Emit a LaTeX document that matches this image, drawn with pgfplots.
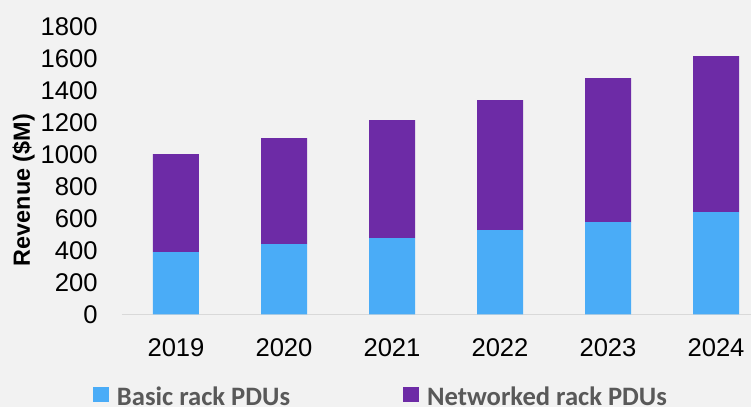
\documentclass[border=0pt]{standalone}
\usepackage{pgfplots}
\pgfplotsset{compat=1.18}
\usepackage{fontspec}
\setmainfont{Liberation Sans}
\newfontfamily\legendfont{Carlito}
\usetikzlibrary{backgrounds}
\definecolor{bg}{HTML}{F2F2F2}
\definecolor{basic}{HTML}{4AACF7}
\definecolor{netw}{HTML}{6D2BA6}
\definecolor{axisgray}{HTML}{D9D9D9}
\definecolor{legtext}{HTML}{595959}

\pgfplotstableread{
x basic networked
0 390 613
1 440 663
2 478 737
3 528 812
4 578 900
5 640 975
}\datatable

\begin{document}
\begin{tikzpicture}
\begin{axis}[
  at={(0,0)}, anchor=south west,
  scale only axis, width=314.5pt, height=144pt,
  ybar stacked, bar width=23pt,
  xmin=-0.5, xmax=5.324, ymin=0, ymax=1800,
  xtick={0,1,2,3,4,5}, xticklabels={2019,2020,2021,2022,2023,2024},
  ytick={0,200,...,1800},
  axis line style={draw=none},
  major tick length=0pt,
  tick style={draw=none},
  /pgf/number format/assume math mode=true,
  /pgf/number format/1000 sep={},
  tick label style={font=\fontsize{12.8}{14}\selectfont, inner sep=0pt, text=black},
  yticklabel style={anchor=east, xshift=-12pt},
  xticklabel style={anchor=center, yshift=-16.75pt},
  legend columns=2,
  legend image code/.code={\fill[#1] (0pt,-2.25pt) rectangle (8pt,5.25pt);},
  legend style={at={(rel axis cs:0,0)}, anchor=west, xshift=-14.5pt, yshift=-41.6pt,
    draw=none, fill=none, inner sep=0pt, outer sep=0pt,
    nodes={inner sep=0pt, outer sep=0pt},
    font=\legendfont\bfseries\fontsize{13.3}{14}\selectfont, text=legtext,
    /tikz/column 1/.style={column sep=4pt},
    /tikz/column 2/.style={column sep=56.5pt},
    /tikz/column 3/.style={column sep=4pt}},
]
\addplot[fill=basic, draw=none] table[x=x, y=basic] {\datatable};
\addplot[fill=netw, draw=none] table[x=x, y=networked] {\datatable};
\legend{Basic rack PDUs, Networked rack PDUs}
\draw[axisgray, line width=0.75pt] (rel axis cs:0,0) -- (rel axis cs:1,0);
\end{axis}
\node[rotate=90, inner sep=0pt, font=\bfseries\fontsize{11.7}{14}\selectfont] at (-49.25pt,62.25pt) {Revenue (\$M)};
\begin{scope}[on background layer]
\fill[bg] (-61pt,-46.25pt) rectangle (314.5pt,157.25pt);
\end{scope}
\pgfresetboundingbox
\useasboundingbox (-61pt,-46.25pt) rectangle (314.5pt,157.25pt);
\end{tikzpicture}
\end{document}
